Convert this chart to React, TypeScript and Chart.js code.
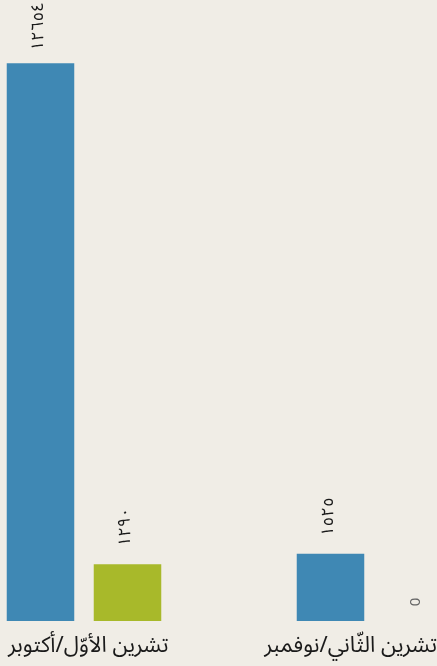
import React, { useEffect, useRef } from "react";
import { Chart, registerables } from "chart.js";

Chart.register(...registerables);

const categories = ["تشرين الأوّل/أكتوبر", "تشرين الثّاني/نوفمبر"];
const seriesBlue = [12654, 1525];
const seriesGreen = [1290, 0];
const yMax = 14000;

const BG = "#f0ede6";
const BLUE = "#3f88b4";
const GREEN = "#a8b92a";
const FONT = "'Noto Sans Arabic', 'Noto Naskh Arabic', 'Noto Sans', sans-serif";
const OFFSET_X = -61; // canvas shift inside the 437px frame
const VIEW_W = 437;

const toArabicDigits = (n: number) =>
  String(n).replace(/[0-9]/g, (d) => "٠١٢٣٤٥٦٧٨٩"[Number(d)]);

const labelPlugin = {
  id: "rotLabels",
  afterDatasetsDraw(chart: any) {
    const ctx = chart.ctx;
    chart.data.datasets.forEach((ds: any, di: number) => {
      const meta = chart.getDatasetMeta(di);
      meta.data.forEach((bar: any, i: number) => {
        const v = ds.data[i];
        ctx.save();
        const zero = v === 0;
        const cy = bar.y - (zero ? 19 : 37);
        ctx.translate(bar.x, cy);
        ctx.rotate(-Math.PI / 2);
        ctx.textAlign = "center";
        ctx.textBaseline = "middle";
        ctx.fillStyle = zero ? "#666" : "#1a1a1a";
        ctx.font = zero ? "15px " + FONT : "17px " + FONT;
        ctx.fillText(zero ? "0" : toArabicDigits(v), 0, 0);
        ctx.restore();
      });
    });
  },
};

// category labels placed from the x scale, kept inside the visible frame
const catLabelPlugin = {
  id: "catLabels",
  afterDraw(chart: any) {
    const ctx = chart.ctx;
    const xs = chart.scales.x;
    const minX = -OFFSET_X + 8;
    const maxX = -OFFSET_X + VIEW_W;
    ctx.save();
    ctx.font = "22px " + FONT;
    ctx.fillStyle = "#1a1a1a";
    ctx.textAlign = "left";
    ctx.textBaseline = "alphabetic";
    categories.forEach((lab, i) => {
      const c = xs.getPixelForTick(i);
      const w = ctx.measureText(lab).width;
      let left = c - w / 2;
      if (left < minX) left = minX;
      if (left + w > maxX) left = maxX - w;
      ctx.fillText(lab, left, chart.chartArea.bottom + 31);
    });
    ctx.restore();
  },
};

export default function App() {
  const ref = useRef<HTMLCanvasElement | null>(null);
  useEffect(() => {
    document.body.style.margin = "0";
    document.body.style.background = BG;
    const chart = new Chart(ref.current as HTMLCanvasElement, {
      type: "bar",
      data: {
        labels: categories,
        datasets: [
          { data: seriesBlue, backgroundColor: BLUE },
          { data: seriesGreen, backgroundColor: GREEN },
        ],
      },
      options: {
        animation: false,
        responsive: false,
        maintainAspectRatio: false,
        layout: { padding: { top: 4, left: 0, right: 0, bottom: 0 } },
        datasets: { bar: { categoryPercentage: 0.6, barPercentage: 0.776 } },
        plugins: { legend: { display: false }, tooltip: { enabled: false } },
        scales: {
          x: {
            grid: { display: false, drawTicks: false },
            border: { display: false },
            ticks: { display: false },
            afterFit: (axis: any) => {
              axis.height = 45;
            },
          },
          y: {
            display: false,
            min: 0,
            max: yMax,
          },
        },
      },
      plugins: [labelPlugin, catLabelPlugin],
    });
    return () => chart.destroy();
  }, []);
  return (
    <div
      style={{
        position: "fixed",
        left: 0,
        top: 0,
        width: VIEW_W,
        height: 666,
        overflow: "hidden",
        background: BG,
      }}
    >
      <canvas
        ref={ref}
        width={580}
        height={666}
        style={{ position: "absolute", left: OFFSET_X, top: 0, width: 580, height: 666 }}
      />
    </div>
  );
}
